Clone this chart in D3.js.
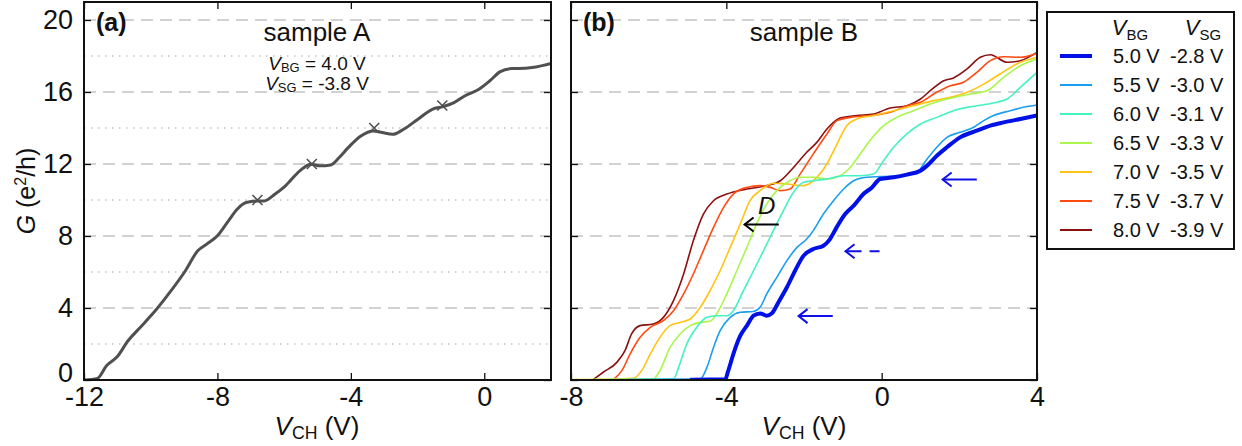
<!DOCTYPE html>
<html>
<head>
<meta charset="utf-8">
<script src="https://cdn.jsdelivr.net/npm/d3@7"></script>
<style>
  body { margin: 0; background: #fff; }
  svg text { font-family: "Liberation Sans", Arial, sans-serif; fill: #111; }
</style>
</head>
<body>
<svg id="chart" width="1242" height="446"></svg>
<script>
// ---- data ----
// panel (a): sample A, VBG = 4.0 V, VSG = -3.8 V
const curveA = [[-12,0],[-11.6,0.09],[-11.32,0.8],[-11.0,1.3],[-10.68,2.18],[-10.36,2.83],[-9.82,3.94],
  [-9.39,4.96],[-8.96,6.07],[-8.59,7.18],[-8.32,7.55],[-8.0,8.01],[-7.67,8.84],[-7.41,9.49],[-7.14,9.86],
  [-6.82,9.95],[-6.6,9.95],[-6.28,10.32],[-5.96,10.79],[-5.53,11.62],[-5.2,11.99],[-4.93,11.9],[-4.61,11.95],
  [-4.35,12.36],[-4.08,12.91],[-3.7,13.56],[-3.33,13.84],[-3.06,13.75],[-2.74,13.65],[-2.42,13.93],
  [-1.99,14.49],[-1.56,15.04],[-1.23,15.19],[-0.91,15.41],[-0.59,15.78],[-0.16,16.15],[0.16,16.61],
  [0.48,17.13],[0.81,17.3],[1.23,17.32],[1.55,17.39],[2.0,17.58]]
const markA = [[-6.8,10],[-5.17,12],[-3.3,14],[-1.26,15.25]]

// panel (b): sample B
const vbgLabels = ["5.0 V","5.5 V","6.0 V","6.5 V","7.0 V","7.5 V","8.0 V"]
const vsgLabels = ["-2.8 V","-3.0 V","-3.1 V","-3.3 V","-3.5 V","-3.7 V","-3.9 V"]

const curve50 = [[-4.93,0.02],[-4.03,0.04],[-3.95,0.52],[-3.82,1.44],[-3.64,2.46],[-3.47,3.02],[-3.3,3.57],
  [-3.13,3.7],[-2.96,3.57],[-2.83,3.7],[-2.66,4.31],[-2.44,5.15],[-2.23,6.07],[-2.01,6.91],[-1.76,7.28],
  [-1.5,7.46],[-1.33,7.83],[-1.16,8.48],[-0.94,9.22],[-0.72,9.69],[-0.47,10.33],[-0.25,10.7],[-0.04,11.17],
  [0.31,11.26],[0.65,11.41],[1.0,11.63],[1.17,11.91],[1.42,12.46],[1.68,12.93],[2.02,13.48],[2.45,13.85],
  [2.8,14.13],[3.14,14.31],[3.57,14.5],[4.0,14.69]]
const curve55 = [[-6.5,0.02],[-4.67,0.06],[-4.5,0.7],[-4.33,1.81],[-4.16,2.74],[-3.9,3.48],[-3.64,3.76],
  [-3.3,3.81],[-3.13,4.04],[-2.96,4.78],[-2.7,5.7],[-2.44,6.63],[-2.18,7.37],[-1.93,7.83],[-1.76,8.3],
  [-1.5,9.22],[-1.24,9.96],[-0.98,10.61],[-0.72,11.07],[-0.38,11.26],[-0.04,11.3],[0.56,11.35],[0.91,11.54],
  [1.17,12.28],[1.42,12.93],[1.68,13.48],[2.02,13.76],[2.37,14.04],[2.63,14.41],[2.88,14.69],[3.31,14.96],
  [3.74,15.19],[4.0,15.28]]
const curve60 = [[-7.0,0.02],[-5.36,0.06],[-5.23,0.7],[-5.02,2.0],[-4.76,2.93],[-4.5,3.48],[-4.25,3.57],
  [-3.99,3.57],[-3.82,3.85],[-3.56,4.96],[-3.3,6.07],[-3.04,7.19],[-2.79,8.3],[-2.53,9.41],[-2.27,10.43],
  [-2.01,10.98],[-1.76,11.07],[-1.41,11.17],[-0.98,11.35],[-0.55,11.35],[-0.21,11.44],[0.05,12.19],
  [0.31,12.93],[0.65,13.67],[1.0,14.22],[1.42,14.59],[1.85,14.96],[2.45,15.24],[2.97,15.43],[3.23,15.61],
  [3.57,16.26],[4.0,17.09]]
const curve65 = [[-7.5,0.02],[-5.88,0.06],[-5.71,0.52],[-5.45,1.81],[-5.19,2.56],[-4.93,3.02],[-4.68,3.2],
  [-4.42,3.26],[-4.25,3.67],[-3.99,4.78],[-3.73,6.07],[-3.47,7.37],[-3.22,8.67],[-2.96,9.78],[-2.7,10.52],
  [-2.36,11.07],[-2.1,11.26],[-1.76,11.26],[-1.41,11.17],[-1.07,11.35],[-0.81,11.81],[-0.55,12.56],
  [-0.3,13.3],[0.05,14.13],[0.39,14.59],[0.82,14.96],[1.25,15.33],[1.68,15.61],[2.28,15.89],[2.71,16.07],
  [3.14,16.81],[3.57,17.46],[4.0,17.83]]
const curve70 = [[-8,0.02],[-6.39,0.1],[-6.18,0.52],[-5.96,1.44],[-5.71,2.37],[-5.45,3.02],[-5.19,3.2],
  [-4.93,3.39],[-4.67,4.04],[-4.42,4.96],[-4.16,6.07],[-3.9,7.37],[-3.64,8.67],[-3.39,9.96],[-3.13,10.52],
  [-2.79,10.93],[-2.44,10.89],[-2.01,10.8],[-1.67,11.26],[-1.41,12.0],[-1.15,13.11],[-0.9,14.13],
  [-0.64,14.5],[-0.21,14.69],[0.31,14.96],[0.82,15.24],[1.34,15.52],[1.77,15.7],[2.2,15.98],[2.63,16.44],
  [3.05,17.0],[3.48,17.56],[4.0,17.93]]
const curve75 = [[-6.9,0.04],[-6.69,0.52],[-6.48,1.44],[-6.22,2.37],[-5.96,2.93],[-5.62,3.3],[-5.36,3.85],
  [-5.1,4.78],[-4.85,5.89],[-4.59,7.19],[-4.33,8.48],[-4.07,9.59],[-3.82,10.33],[-3.47,10.7],[-3.13,10.8],
  [-2.87,10.7],[-2.61,10.52],[-2.36,10.61],[-2.1,11.44],[-1.76,12.56],[-1.41,13.67],[-1.15,14.41],
  [-0.81,14.59],[-0.3,14.69],[0.22,14.87],[0.65,15.24],[1.0,15.43],[1.34,15.89],[1.77,16.35],[2.11,16.54],
  [2.45,17.09],[2.8,17.74],[3.14,17.96],[3.57,17.93],[4.0,18.15]]
const curve80 = [[-7.42,0.04],[-7.17,0.43],[-6.82,0.98],[-6.61,1.63],[-6.44,2.56],[-6.22,3.02],[-5.88,3.11],
  [-5.62,3.48],[-5.36,4.41],[-5.1,5.89],[-4.85,7.74],[-4.59,9.22],[-4.33,9.96],[-3.99,10.33],[-3.47,10.61],
  [-2.96,10.8],[-2.61,11.07],[-2.27,11.81],[-1.93,12.65],[-1.67,13.2],[-1.41,13.94],[-1.07,14.55],
  [-0.64,14.69],[-0.21,14.78],[0.22,15.11],[0.65,15.24],[1.0,15.61],[1.25,16.07],[1.6,16.63],[1.85,16.78],
  [2.2,17.28],[2.54,17.93],[2.8,18.07],[3.23,17.65],[3.57,17.74],[4.0,18.2]]

const curvesB = [curve50, curve55, curve60, curve65, curve70, curve75, curve80]

const xTicksA = [-12, -8, -4, 0]
const xTicksB = [-8, -4, 0, 4]
const yTicks = [0, 4, 8, 12, 16, 20]
const yMinor = [2, 6, 10, 14, 18]

// ---- styling ----
const colors = ["#0011e6", "#1a9ff0", "#45f2c2", "#a9f64c", "#ffc414", "#ff4a12", "#8b1010"]
const widths = [4, 1.6, 1.6, 1.6, 1.6, 1.6, 1.6]

const svg = d3.select("#chart")
svg.append("rect").attr("width", 1242).attr("height", 446).attr("fill", "#fff")

const y = d3.scaleLinear().domain([0, 21]).range([380, 2])
const xa = d3.scaleLinear().domain([-12, 2]).range([84, 551])
const xb = d3.scaleLinear().domain([-8, 4]).range([571, 1037])

function panel(x, xTicks, showYLabels, minor, id) {
  const g = svg.append("g")
  const [x0, x1] = x.range()
  g.append("clipPath").attr("id", id).append("rect")
    .attr("x", x0).attr("y", 2).attr("width", x1 - x0).attr("height", 378)

  // grid
  g.selectAll(".major").data(yTicks.filter(d => d > 0)).enter().append("line")
    .attr("x1", x0).attr("x2", x1).attr("y1", d => y(d)).attr("y2", d => y(d))
    .attr("stroke", "#c4c4c4").attr("stroke-width", 1.5).attr("stroke-dasharray", "12,7")
  if (minor) {
    g.selectAll(".minor").data(yMinor).enter().append("line")
      .attr("x1", x0).attr("x2", x1).attr("y1", d => y(d)).attr("y2", d => y(d))
      .attr("stroke", "#c4c4c4").attr("stroke-width", 1.5).attr("stroke-dasharray", "1.5,5.5")
  }

  // axes (inward ticks on all four sides)
  g.append("g").attr("class", "xaxis").attr("transform", "translate(0,380)")
    .call(d3.axisBottom(x).tickValues(xTicks).tickSize(-7).tickPadding(7).tickFormat(d => String(d)))
  g.append("g").attr("transform", "translate(0,2)")
    .call(d3.axisTop(x).tickValues(xTicks).tickSize(-7).tickFormat(""))
  g.append("g").attr("class", "yaxis").attr("transform", "translate(" + x0 + ",0)")
    .call(d3.axisLeft(y).tickValues(yTicks).tickSize(-7).tickPadding(11)
      .tickFormat(showYLabels ? (d => String(d)) : ""))
  g.append("g").attr("transform", "translate(" + x1 + ",0)")
    .call(d3.axisRight(y).tickValues(yTicks).tickSize(-7).tickFormat(""))
  g.selectAll(".domain").remove()
  g.selectAll(".tick line").attr("stroke", "#111").attr("stroke-width", 1.3)
  g.selectAll(".tick text").attr("font-size", 27).attr("fill", "#111")
    .attr("font-family", "Liberation Sans, Arial, sans-serif")
  return g
}

const line = x => d3.line().x(d => x(d[0])).y(d => y(d[1])).curve(d3.curveMonotoneX)

// ---- panel (a) ----
const ga = panel(xa, xTicksA, true, true, "clipA")
// lift the "0" label a bit so it clears "-12"
ga.select(".yaxis").selectAll(".tick text").filter(d => d === 0).attr("dy", "0.05em")
ga.append("path").datum(curveA).attr("d", line(xa)).attr("fill", "none")
  .attr("stroke", "#505050").attr("stroke-width", 3).attr("clip-path", "url(#clipA)")
ga.selectAll(".mark").data(markA).enter().append("path")
  .attr("transform", d => "translate(" + xa(d[0]) + "," + y(d[1]) + ")")
  .attr("d", "M-5,-5L5,5M-5,5L5,-5").attr("stroke", "#505050").attr("stroke-width", 1.6)
ga.append("rect").attr("x", 84).attr("y", 2).attr("width", 467).attr("height", 378)
  .attr("fill", "none").attr("stroke", "#111").attr("stroke-width", 2)

ga.append("text").attr("x", 96).attr("y", 31).attr("font-size", 25).attr("font-weight", "bold").text("(a)")
ga.append("text").attr("x", 317).attr("y", 41).attr("font-size", 26).attr("text-anchor", "middle").text("sample A")
function vLabel(g, xPos, yPos, sub, rest, size, anchor, drop) {
  const d = drop === undefined ? 0.22 : drop
  const t = g.append("text").attr("x", xPos).attr("y", yPos).attr("font-size", size).attr("text-anchor", anchor)
  t.append("tspan").attr("font-style", "italic").text("V")
  t.append("tspan").attr("font-size", size * 0.68).attr("dy", size * d).text(sub)
  t.append("tspan").attr("dy", -size * d).text(rest)
  return t
}
vLabel(ga, 317, 70, "BG", " = 4.0 V", 19, "middle", 0.12)
vLabel(ga, 317, 90, "SG", " = -3.8 V", 19, "middle", 0.12)

// axis titles
const gt = svg.append("text").attr("transform", "translate(35,191) rotate(-90)")
  .attr("text-anchor", "middle").attr("font-size", 25)
gt.append("tspan").attr("font-style", "italic").text("G")
gt.append("tspan").text(" (e")
gt.append("tspan").attr("font-size", 16).attr("dy", -9).text("2")
gt.append("tspan").attr("dy", 9).text("/h)")
vLabel(svg, 317, 435, "CH", " (V)", 26, "middle", 0.15)
vLabel(svg, 804, 435, "CH", " (V)", 26, "middle", 0.15)

// ---- panel (b) ----
const gb = panel(xb, xTicksB, false, false, "clipB")
const order = [6, 5, 4, 3, 2, 1, 0]
order.forEach(i => {
  gb.append("path").datum(curvesB[i]).attr("d", line(xb)).attr("fill", "none")
    .attr("stroke", colors[i]).attr("stroke-width", widths[i]).attr("clip-path", "url(#clipB)")
})
gb.append("rect").attr("x", 571).attr("y", 2).attr("width", 466).attr("height", 378)
  .attr("fill", "none").attr("stroke", "#111").attr("stroke-width", 2)
gb.append("text").attr("x", 583).attr("y", 31).attr("font-size", 25).attr("font-weight", "bold").text("(b)")
gb.append("text").attr("x", 804).attr("y", 41).attr("font-size", 26).attr("text-anchor", "middle").text("sample B")

// arrows: [tailX, tipX, G]
const arrowsBlue = [[2.45, 1.57, 11.14], [-0.05, -0.93, 7.15], [-1.26, -2.14, 3.55]]
const arrowD = [-2.65, -3.53, 8.64]
function arrow(g, a, color, dash) {
  const x1 = xb(a[0]), x2 = xb(a[1]), yy = y(a[2])
  g.append("line").attr("x1", x2).attr("x2", x1).attr("y1", yy).attr("y2", yy)
    .attr("stroke", color).attr("stroke-width", 2).attr("stroke-dasharray", dash ? "16,8,10,100" : null)
  g.append("path").attr("d", "M" + (x2 + 9) + "," + (yy - 7) + "L" + x2 + "," + yy + "L" + (x2 + 9) + "," + (yy + 7))
    .attr("fill", "none").attr("stroke", color).attr("stroke-width", 2)
}
arrowsBlue.forEach((a, i) => arrow(gb, a, "#1010e8", i === 1))
arrow(gb, arrowD, "#000", false)
gb.append("text").attr("x", xb(-2.96)).attr("y", y(9.2)).attr("font-size", 24).attr("font-style", "italic")
  .attr("text-anchor", "middle").text("D")

// ---- legend ----
const lg = svg.append("g")
lg.append("rect").attr("x", 1047).attr("y", 12).attr("width", 187).attr("height", 237)
  .attr("fill", "#fff").attr("stroke", "#111").attr("stroke-width", 2)
vLabel(lg, 1130, 35, "BG", "", 22, "middle")
vLabel(lg, 1203, 35, "SG", "", 22, "middle")
const rows = lg.selectAll(".row").data(vbgLabels).enter().append("g")
  .attr("transform", (d, i) => "translate(0," + (63 + i * 29) + ")")
rows.append("line").attr("x1", 1060).attr("x2", 1092).attr("y1", -7).attr("y2", -7)
  .attr("stroke", (d, i) => colors[i]).attr("stroke-width", (d, i) => i === 0 ? 4 : 2)
rows.append("text").attr("x", 1113).attr("font-size", 20).text(d => d)
rows.append("text").attr("x", 1170).attr("font-size", 20).text((d, i) => vsgLabels[i])
</script>
</body>
</html>
